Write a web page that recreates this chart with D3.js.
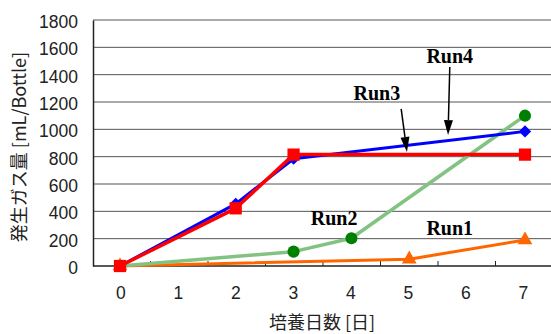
<!DOCTYPE html>
<html>
<head>
<meta charset="utf-8">
<script src="https://cdn.jsdelivr.net/npm/d3@7"></script>
<style>
  html, body { margin: 0; padding: 0; background: #fff; }
  svg { display: block; }
</style>
</head>
<body>
<svg id="chart" width="551" height="334"></svg>
<script>
// Culture days shown on the category axis
const dayLabels = ["0", "1", "2", "3", "4", "5", "6", "7"];
const yTicks = [0, 200, 400, 600, 800, 1000, 1200, 1400, 1600, 1800];

// Gas production per run [mL/Bottle]
const run1Days = [0, 5, 7];
const run1Gas  = [0, 50, 190];
const run2Days = [0, 3, 4, 7];
const run2Gas  = [0, 105, 203, 1100];
const run3Days = [0, 2, 3, 7];
const run3Gas  = [0, 422, 815, 815];
const run4Days = [0, 2, 3, 7];
const run4Gas  = [0, 455, 785, 985];

const svg = d3.select("#chart");
const plot = { left: 93, right: 553, top: 20, bottom: 266 };

const y = d3.scaleLinear().domain([0, 1800]).range([plot.bottom, plot.top]);
const band = d3.scaleBand().domain(dayLabels).range([plot.left, plot.right]);
const x = d3.scaleLinear().domain([0, 7]).range([120, 525]);

const tickFont = "'Liberation Sans', Arial, sans-serif";
const titleFont = "'Noto Sans CJK JP', 'Liberation Sans', sans-serif";

// Horizontal gridlines
svg.append("g")
  .selectAll("line")
  .data(yTicks.filter(d => d > 0))
  .join("line")
  .attr("x1", plot.left).attr("x2", 551)
  .attr("y1", d => y(d)).attr("y2", d => y(d))
  .attr("stroke", "#555").attr("stroke-width", 1);

// Y axis
const yAxis = svg.append("g")
  .attr("transform", `translate(${plot.left},0)`)
  .call(d3.axisLeft(y).tickValues(yTicks).tickFormat(d3.format("d")).tickSize(0).tickPadding(15));
yAxis.select(".domain").attr("stroke", "#222").attr("stroke-width", 1.5);
yAxis.selectAll("text")
  .attr("font-family", tickFont).attr("font-size", 17.5).attr("fill", "#222")
  .attr("dy", "0.42em");

// X axis: labels centred in category bands, tick marks between them pointing inward
const xAxisG = svg.append("g").attr("transform", `translate(0,${plot.bottom})`);
xAxisG.append("line")
  .attr("x1", plot.left).attr("x2", 551)
  .attr("stroke", "#222").attr("stroke-width", 1.5);
xAxisG.selectAll("line.tick")
  .data(dayLabels.slice(1))
  .join("line")
  .attr("class", "tick")
  .attr("x1", d => band(d)).attr("x2", d => band(d))
  .attr("y1", 0).attr("y2", -5)
  .attr("stroke", "#222").attr("stroke-width", 1);
xAxisG.selectAll("text")
  .data(dayLabels)
  .join("text")
  .attr("x", d => band(d) + band.bandwidth() / 2 - 1)
  .attr("y", 33)
  .attr("text-anchor", "middle")
  .attr("font-family", tickFont).attr("font-size", 17.5).attr("fill", "#222")
  .text(d => d);

// Axis titles
svg.append("text")
  .attr("x", 322).attr("y", 329)
  .attr("text-anchor", "middle")
  .attr("font-family", titleFont).attr("font-size", 18).attr("fill", "#222")
  .text("培養日数 [日]");
svg.append("text")
  .attr("transform", "translate(26,147) rotate(-90)")
  .attr("text-anchor", "middle")
  .attr("font-family", titleFont).attr("font-size", 18).attr("fill", "#222")
  .text("発生ガス量 [mL/Bottle]");

const line = d3.line().x(d => x(d[0])).y(d => y(d[1]));
const zip = (a, b) => a.map((v, i) => [v, b[i]]);

function drawSeries(days, gas, lineColor, lineWidth, symbolType, symbolSize, markerColor, rotate) {
  const pts = zip(days, gas);
  const g = svg.append("g");
  g.append("path")
    .datum(pts)
    .attr("d", line)
    .attr("fill", "none")
    .attr("stroke", lineColor)
    .attr("stroke-width", lineWidth)
    .attr("stroke-linejoin", "round");
  g.selectAll("path.mark")
    .data(pts)
    .join("path")
    .attr("class", "mark")
    .attr("d", d3.symbol().type(symbolType).size(symbolSize))
    .attr("transform", d => `translate(${x(d[0])},${y(d[1])}) rotate(${rotate})`)
    .attr("fill", markerColor);
}

drawSeries(run1Days, run1Gas, "#FF6600", 3, d3.symbolTriangle, 95, "#FF6600", 0);
drawSeries(run2Days, run2Gas, "#82C282", 3.5, d3.symbolCircle, 115, "#008000", 0);
drawSeries(run4Days, run4Gas, "#0000FF", 3, d3.symbolSquare, 75, "#0000FF", 45);
drawSeries(run3Days, run3Gas, "#FF0000", 3.5, d3.symbolSquare, 150, "#FF0000", 0);

// Run labels and arrows, positioned in data units
const labelFont = "'Liberation Serif', 'Times New Roman', serif";
const labels = [
  { text: "Run4", day: 5.70, gas: 1485 },
  { text: "Run3", day: 4.44, gas: 1215 },
  { text: "Run2", day: 3.70, gas: 300 },
  { text: "Run1", day: 5.70, gas: 227 }
];
svg.append("g")
  .selectAll("text")
  .data(labels)
  .join("text")
  .attr("x", d => x(d.day)).attr("y", d => y(d.gas))
  .attr("text-anchor", "middle")
  .attr("font-family", labelFont).attr("font-weight", "bold")
  .attr("font-size", 20).attr("fill", "#000")
  .text(d => d.text);

const arrows = [
  { from: [5.70, 1456], to: [5.67, 958] },
  { from: [4.86, 1149], to: [4.96, 834] }
];
const arrowG = svg.append("g");
arrows.forEach(a => {
  const x1 = x(a.from[0]), y1 = y(a.from[1]);
  const x2 = x(a.to[0]), y2 = y(a.to[1]);
  const ang = Math.atan2(y2 - y1, x2 - x1);
  const headLen = 15, headHalf = 4.5;
  const bx = x2 - headLen * Math.cos(ang), by = y2 - headLen * Math.sin(ang);
  arrowG.append("line")
    .attr("x1", x1).attr("y1", y1).attr("x2", bx).attr("y2", by)
    .attr("stroke", "#000").attr("stroke-width", 1.5);
  const px = -Math.sin(ang) * headHalf, py = Math.cos(ang) * headHalf;
  arrowG.append("polygon")
    .attr("points", `${x2},${y2} ${bx + px},${by + py} ${bx - px},${by - py}`)
    .attr("fill", "#000");
});
</script>
</body>
</html>
